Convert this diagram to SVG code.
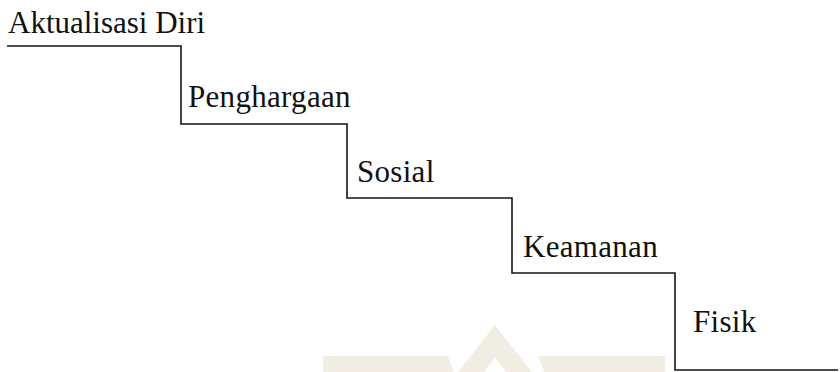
<svg xmlns="http://www.w3.org/2000/svg" width="840" height="372" viewBox="0 0 840 372">
  <style>
    .lbl { font-family: 'Liberation Serif', 'Times New Roman', Times, 'DejaVu Serif', serif; font-size: 31px; letter-spacing: 0.3px; fill: #111; }
    .stair { fill: none; stroke: #151515; stroke-width: 1.6; }
    .mark { fill: #f2ede3; }
  </style>
  <rect width="840" height="372" fill="#ffffff"/>

  <!-- faint roof emblem along the bottom edge -->
  <g id="emblem">
    <polygon class="mark" points="455,376 495,325 535,376 509,376 495,357 481,376"/>
    <polygon class="mark" points="323,356 448,356 455,376 323,376"/>
    <polygon class="mark" points="538,356 665,356 665,376 546,376"/>
  </g>

  <!-- staircase outline -->
  <g id="connectors">
    <path class="stair" d="M7,46 H181 V124 H347 V198 H512 V273 H675 V370 H838"/>
  </g>

  <g id="step-aktualisasi">
    <text class="lbl" x="8" y="33" style="letter-spacing:0">Aktualisasi Diri</text>
  </g>
  <g id="step-penghargaan">
    <text class="lbl" x="188" y="107">Penghargaan</text>
  </g>
  <g id="step-sosial">
    <text class="lbl" x="357" y="182">Sosial</text>
  </g>
  <g id="step-keamanan">
    <text class="lbl" x="523" y="257">Keamanan</text>
  </g>
  <g id="step-fisik">
    <text class="lbl" x="693" y="332">Fisik</text>
  </g>
</svg>
